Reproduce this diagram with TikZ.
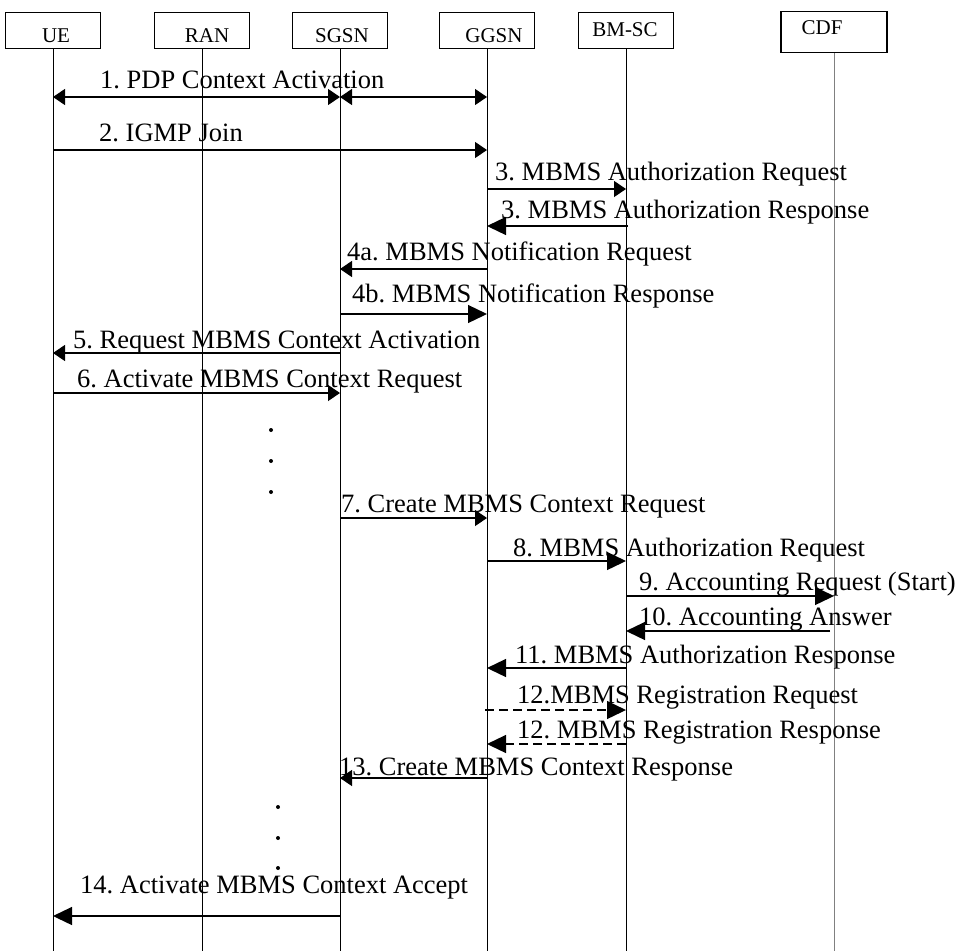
\documentclass[tikz,border=0pt]{standalone}
\usepackage{fontspec}
\setmainfont{Liberation Serif}
\usetikzlibrary{arrows.meta}
\frenchspacing
\begin{document}
\begin{tikzpicture}[x=1pt,y=-1pt,
  box/.style={draw,line width=1.1pt,minimum width=95pt,minimum height=36pt,inner sep=0pt,anchor=north},
  boxtext/.style={anchor=base,inner sep=0pt,font=\fontsize{21}{24}\selectfont},
  msgtext/.style={anchor=base west,inner sep=0pt,font=\fontsize{26.5}{30}\selectfont},
  life/.style={line width=1pt},
  sm/.style={line width=1.3pt,-{Triangle[length=12pt,width=16pt]}},
  smboth/.style={line width=1.3pt,{Triangle[length=12pt,width=16pt]}-{Triangle[length=12pt,width=16pt]}},
  lg/.style={line width=1.3pt,-{Triangle[length=19pt,width=18pt]}},
  lgdash/.style={lg,dash pattern=on 9pt off 5pt},
  dot/.style={circle,fill,inner sep=0pt,minimum size=4pt}
]
\useasboundingbox (0,0) rectangle (957,951);

% participants
\node[box] (ue)   at (53,12)  {};
\node[box] (ran)  at (202,12) {};
\node[box] (sgsn) at (340,12) {};
\node[box] (ggsn) at (487,12) {};
\node[box] (bmsc) at (626,12) {};
\node[box,minimum width=106pt,minimum height=41pt] (cdf) at (834,11) {};

\node[boxtext] (uet)   at (56,42)  {UE};
\node[boxtext] (rant)  at (207,42) {RAN};
\node[boxtext] (sgsnt) at (342,42) {SGSN};
\node[boxtext] (ggsnt) at (494,42) {GGSN};
\node[boxtext] (bmsct) at (625,36) {BM-SC};
\node[boxtext] (cdft)  at (822,34) {CDF};

% lifelines
\coordinate (bottom) at (0,951);
\foreach \p in {ue,ran,sgsn,ggsn,bmsc}{
  \coordinate (\p-end) at (\p.south |- bottom);
  \draw[life] (\p.south) -- (\p-end);
}
\coordinate (cdf-end) at (cdf.south |- bottom);
\draw[life,gray] (cdf.south) -- (cdf-end);

% message rows
\coordinate (m1)   at (0,97);
\coordinate (m2)   at (0,150);
\coordinate (m3)   at (0,189);
\coordinate (m3r)  at (0,226);
\coordinate (m4a)  at (0,269);
\coordinate (m4b)  at (0,314);
\coordinate (m5)   at (0,353);
\coordinate (m6)   at (0,393);
\coordinate (m7)   at (0,518);
\coordinate (m8)   at (0,561);
\coordinate (m9)   at (0,596);
\coordinate (m10)  at (0,631);
\coordinate (m11)  at (0,668);
\coordinate (m12)  at (0,710);
\coordinate (m12r) at (0,744);
\coordinate (m13)  at (0,778);
\coordinate (m14)  at (0,916);

% messages
\draw[smboth] (ue |- m1) -- (sgsn |- m1);
\draw[smboth] (sgsn |- m1) -- (ggsn |- m1);
\draw[sm] (ue |- m2) -- (ggsn |- m2);
\draw[sm] (ggsn |- m3) -- (bmsc |- m3);
\draw[lg] ([xshift=2pt]bmsc |- m3r) -- (ggsn |- m3r);
\draw[sm] (ggsn |- m4a) -- (sgsn |- m4a);
\draw[lg] (sgsn |- m4b) -- (ggsn |- m4b);
\draw[sm] (sgsn |- m5) -- (ue |- m5);
\draw[sm] (ue |- m6) -- (sgsn |- m6);
\draw[sm] (sgsn |- m7) -- (ggsn |- m7);
\draw[lg] (ggsn |- m8) -- (bmsc |- m8);
\draw[lg] (bmsc |- m9) -- (cdf |- m9);
\draw[lg] ([xshift=-4pt]cdf |- m10) -- (bmsc |- m10);
\draw[lg] (bmsc |- m11) -- (ggsn |- m11);
\draw[lgdash] ([xshift=-2pt]ggsn |- m12) -- (bmsc |- m12);
\draw[lgdash] (bmsc |- m12r) -- (ggsn |- m12r);
\draw[sm] (ggsn |- m13) -- (sgsn |- m13);
\draw[lg] (sgsn |- m14) -- (ue |- m14);

% labels
\node[msgtext] (t1)   at (100,88)  {1. PDP Context Activation};
\node[msgtext] (t2)   at (99,141)  {2. IGMP Join};
\node[msgtext] (t3)   at (495,180) {3. MBMS Authorization Request};
\node[msgtext] (t3r)  at (501,218) {3. MBMS Authorization Response};
\node[msgtext] (t4a)  at (347,260) {4a. MBMS Notification Request};
\node[msgtext] (t4b)  at (352,302) {4b. MBMS Notification Response};
\node[msgtext] (t5)   at (73,348)  {5. Request MBMS Context Activation};
\node[msgtext] (t6)   at (77,387)  {6. Activate MBMS Context Request};
\node[msgtext] (t7)   at (341,512) {7. Create MBMS Context Request};
\node[msgtext] (t8)   at (513,556) {8. MBMS Authorization Request};
\node[msgtext] (t9)   at (639,590) {9. Accounting Request (Start)};
\node[msgtext] (t10)  at (639,625) {10. Accounting Answer};
\node[msgtext] (t11)  at (515,663) {11. MBMS Authorization Response};
\node[msgtext] (t12)  at (517,703) {12.MBMS Registration Request};
\node[msgtext] (t12r) at (517,738) {12. MBMS Registration Response};
\node[msgtext] (t13)  at (339,775) {13. Create MBMS Context Response};
\node[msgtext] (t14)  at (80,893)  {14. Activate MBMS Context Accept};

% continuation dots
\node[dot] (d1) at (271,430) {};
\node[dot] (d2) at (271,461) {};
\node[dot] (d3) at (271,492) {};
\node[dot] (d4) at (278,807) {};
\node[dot] (d5) at (278,838) {};
\node[dot] (d6) at (278,868) {};
\end{tikzpicture}
\end{document}
